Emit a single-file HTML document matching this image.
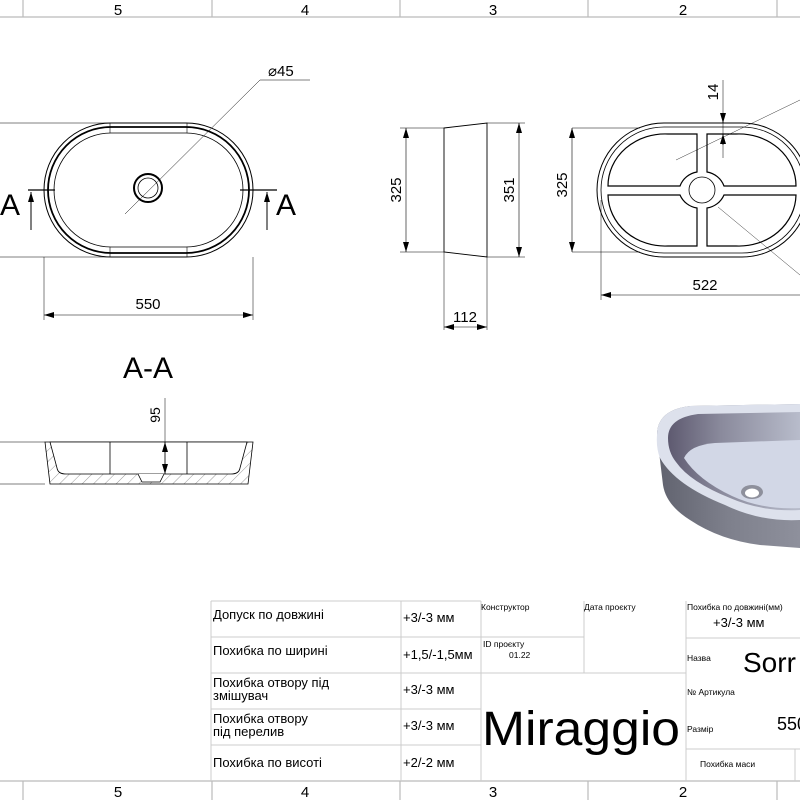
<!DOCTYPE html>
<html><head><meta charset="utf-8"><style>
html,body{margin:0;padding:0;background:#fff;}
svg{display:block;}
text{font-family:"Liberation Sans","DejaVu Sans",sans-serif;fill:#000;}
</style></head><body>
<svg width="800" height="800" viewBox="0 0 800 800" xmlns="http://www.w3.org/2000/svg">
<defs>
<marker id="ar" markerWidth="10" markerHeight="6" refX="10" refY="3" orient="auto-start-reverse" markerUnits="userSpaceOnUse"><path d="M0,0 L10,3 L0,6 Z" fill="#000"/></marker>
<linearGradient id="side" x1="0" y1="0" x2="1" y2="0"><stop offset="0" stop-color="#60626e"/><stop offset="0.5" stop-color="#7e808c"/><stop offset="1" stop-color="#8e909c"/></linearGradient>
<linearGradient id="inner" x1="0" y1="0" x2="1" y2="0"><stop offset="0" stop-color="#5e5a70"/><stop offset="0.4" stop-color="#8a8a9c"/><stop offset="1" stop-color="#b8bccb"/></linearGradient>
<pattern id="hatch" width="8" height="8" patternUnits="userSpaceOnUse" patternTransform="rotate(45)"><line x1="0" y1="0" x2="0" y2="8" stroke="#555" stroke-width="0.6"/></pattern>
</defs>

<!-- frame strips -->
<g stroke="#bbb" stroke-width="1.2" fill="none">
<line x1="0" y1="17" x2="800" y2="17"/>
<line x1="0" y1="781" x2="800" y2="781"/>
<line x1="23" y1="0" x2="23" y2="17"/><line x1="212" y1="0" x2="212" y2="17"/><line x1="400" y1="0" x2="400" y2="17"/><line x1="588" y1="0" x2="588" y2="17"/><line x1="777" y1="0" x2="777" y2="17"/>
<line x1="23" y1="781" x2="23" y2="800"/><line x1="212" y1="781" x2="212" y2="800"/><line x1="400" y1="781" x2="400" y2="800"/><line x1="588" y1="781" x2="588" y2="800"/><line x1="777" y1="781" x2="777" y2="800"/>
</g>
<g font-size="15" text-anchor="middle">
<text x="118" y="15">5</text><text x="305" y="15">4</text><text x="493" y="15">3</text><text x="683" y="15">2</text>
<text x="118" y="797">5</text><text x="305" y="797">4</text><text x="493" y="797">3</text><text x="683" y="797">2</text>
</g>

<!-- TOP VIEW -->
<g fill="none" stroke="#000">
<line x1="0" y1="123" x2="110" y2="123" stroke-width="0.5"/>
<line x1="0" y1="257" x2="110" y2="257" stroke-width="0.5"/>
<rect x="44" y="123" width="209" height="134" rx="67" stroke-width="1"/>
<rect x="48" y="127" width="201" height="126" rx="63" stroke-width="1.8"/>
<rect x="54" y="133" width="189" height="114" rx="57" stroke-width="0.8"/>
<line x1="110" y1="123" x2="110" y2="133" stroke-width="0.6"/><line x1="187" y1="123" x2="187" y2="133" stroke-width="0.6"/>
<line x1="110" y1="247" x2="110" y2="257" stroke-width="0.6"/><line x1="187" y1="247" x2="187" y2="257" stroke-width="0.6"/>
<circle cx="148" cy="188" r="14" stroke-width="2"/>
<circle cx="148" cy="188" r="10" stroke-width="0.8"/>
<line x1="125" y1="214" x2="260" y2="80" stroke-width="0.5"/>
<line x1="260" y1="80" x2="310" y2="80" stroke-width="0.5"/>
<line x1="28" y1="190" x2="55" y2="190" stroke-width="1.2"/>
<line x1="240" y1="190" x2="277" y2="190" stroke-width="1.2"/>
<line x1="31" y1="230" x2="31" y2="192" stroke-width="1" marker-end="url(#ar)"/>
<line x1="267" y1="230" x2="267" y2="192" stroke-width="1" marker-end="url(#ar)"/>
<line x1="44" y1="257" x2="44" y2="320" stroke-width="0.5"/>
<line x1="253" y1="257" x2="253" y2="320" stroke-width="0.5"/>
<line x1="44" y1="315" x2="253" y2="315" stroke-width="0.6" marker-start="url(#ar)" marker-end="url(#ar)"/>
</g>
<text x="0" y="215" font-size="30">A</text>
<text x="276" y="215" font-size="30">A</text>
<text x="148" y="309" font-size="15" text-anchor="middle">550</text>
<text x="268" y="76" font-size="15">⌀45</text>

<!-- SIDE VIEW -->
<g fill="none" stroke="#000">
<path d="M444,128 L487,123 L487,257 L444,252 Z" stroke-width="0.9"/>
<line x1="400" y1="128" x2="444" y2="128" stroke-width="0.5"/>
<line x1="400" y1="252" x2="444" y2="252" stroke-width="0.5"/>
<line x1="487" y1="123" x2="525" y2="123" stroke-width="0.5"/>
<line x1="487" y1="257" x2="525" y2="257" stroke-width="0.5"/>
<line x1="406" y1="128" x2="406" y2="252" stroke-width="0.6" marker-start="url(#ar)" marker-end="url(#ar)"/>
<line x1="519" y1="123" x2="519" y2="257" stroke-width="0.6" marker-start="url(#ar)" marker-end="url(#ar)"/>
<line x1="444" y1="252" x2="444" y2="330" stroke-width="0.5"/>
<line x1="487" y1="257" x2="487" y2="330" stroke-width="0.5"/>
<line x1="444" y1="327" x2="487" y2="327" stroke-width="0.6" marker-start="url(#ar)" marker-end="url(#ar)"/>
</g>
<text font-size="15" text-anchor="middle" transform="translate(401,190) rotate(-90)">325</text>
<text font-size="15" text-anchor="middle" transform="translate(514,190) rotate(-90)">351</text>
<text x="465" y="322" font-size="15" text-anchor="middle">112</text>

<!-- BOTTOM VIEW -->
<g fill="none" stroke="#000">
<rect x="597" y="123" width="212" height="134" rx="67" stroke-width="1"/>
<rect x="601" y="127" width="204" height="126" rx="63" stroke-width="0.8"/>
<path d="M697,134 L668,134 A57,52 0 0 0 608,186 L680,186 A22,22 0 0 1 697,172 Z" stroke-width="1.2"/>
<path d="M707,134 L736,134 A57,52 0 0 1 796,186 L724,186 A22,22 0 0 0 707,172 Z" stroke-width="1.2"/>
<path d="M697,246 L668,246 A57,52 0 0 1 608,195 L680,195 A22,22 0 0 0 697,208 Z" stroke-width="1.2"/>
<path d="M707,246 L736,246 A57,52 0 0 0 796,195 L724,195 A22,22 0 0 1 707,208 Z" stroke-width="1.2"/>
<circle cx="702" cy="190" r="13" stroke-width="0.8"/>
<line x1="572" y1="128" x2="640" y2="128" stroke-width="0.5"/>
<line x1="572" y1="252" x2="640" y2="252" stroke-width="0.5"/>
<line x1="572" y1="128" x2="572" y2="252" stroke-width="0.6" marker-start="url(#ar)" marker-end="url(#ar)"/>
<line x1="601" y1="200" x2="601" y2="300" stroke-width="0.5"/>
<line x1="601" y1="295" x2="800" y2="295" stroke-width="0.6" marker-start="url(#ar)"/>
<line x1="723" y1="80" x2="723" y2="158" stroke-width="0.5"/>
<line x1="723" y1="118" x2="723" y2="123" stroke-width="0.8" marker-end="url(#ar)"/>
<line x1="723" y1="145" x2="723" y2="134" stroke-width="0.8" marker-end="url(#ar)"/>
<line x1="676" y1="160" x2="800" y2="100" stroke-width="0.4"/>
<line x1="718" y1="207" x2="800" y2="275" stroke-width="0.4"/>
</g>
<text font-size="15" text-anchor="middle" transform="translate(567,185) rotate(-90)">325</text>
<text font-size="15" text-anchor="middle" transform="translate(718,92) rotate(-90)">14</text>
<text x="705" y="290" font-size="15" text-anchor="middle">522</text>

<!-- SECTION A-A -->
<text x="148" y="378" font-size="30" text-anchor="middle">A-A</text>
<g fill="none" stroke="#000">
<line x1="0" y1="442" x2="45" y2="442" stroke-width="0.6"/>
<line x1="0" y1="484" x2="45" y2="484" stroke-width="0.6"/>
<path d="M45,442 L253,442 L248,484 L50,484 Z" fill="url(#hatch)" stroke-width="0.8"/>
<path d="M50,442 L57,468 Q58,474 66,474 L231,474 Q239,474 240,468 L247,442 Z" fill="#fff" stroke-width="0.8"/>
<line x1="110" y1="442" x2="110" y2="474" stroke-width="0.8"/>
<line x1="187" y1="442" x2="187" y2="474" stroke-width="0.8"/>
<path d="M138,474 L142,482 L160,482 L164,474" fill="#fff" stroke-width="0.8"/>
<line x1="165" y1="398" x2="165" y2="474" stroke-width="0.5"/>
<line x1="165" y1="442" x2="165" y2="474" stroke-width="0.7" marker-start="url(#ar)" marker-end="url(#ar)"/>
</g>
<text font-size="14" text-anchor="middle" transform="translate(160,415) rotate(-90)">95</text>

<!-- 3D RENDER -->
<g>
<!-- side body -->
<path d="M657,435 Q657,410 690,406 L800,404 L800,548 L760,545 Q720,540 690,520 Q666,505 663,485 Z" fill="url(#side)"/>
<!-- top rim -->
<path d="M657,435 Q657,410 690,406 L800,404 L800,520 Q760,522 725,505 Q675,485 660,458 Q656,448 657,435 Z" fill="#dde1ec"/>
<!-- inner basin -->
<path d="M668,438 Q668,418 698,414 L800,412 L800,510 Q762,512 730,498 Q690,482 676,462 Q668,452 668,438 Z" fill="url(#inner)"/>
<!-- basin floor -->
<path d="M684,458 Q690,445 715,443 L800,440 L800,508 Q762,510 732,496 Q698,480 684,458 Z" fill="#d2d7e6"/>
<ellipse cx="752" cy="492" rx="11" ry="7" fill="#8e909c"/>
<ellipse cx="752" cy="493" rx="7" ry="4.5" fill="#fff"/>
</g>

<!-- TITLE TABLE -->
<g stroke="#ccc" stroke-width="1" fill="none">
<line x1="211" y1="601" x2="481" y2="601"/>
<line x1="211" y1="637" x2="481" y2="637"/>
<line x1="211" y1="673" x2="481" y2="673"/>
<line x1="211" y1="709" x2="481" y2="709"/>
<line x1="211" y1="745" x2="481" y2="745"/>
<line x1="211" y1="601" x2="211" y2="781"/>
<line x1="401" y1="601" x2="401" y2="781"/>
<line x1="481" y1="601" x2="481" y2="781"/>
<line x1="584" y1="601" x2="584" y2="673"/>
<line x1="481" y1="637" x2="584" y2="637"/>
<line x1="481" y1="673" x2="686" y2="673"/>
<line x1="686" y1="601" x2="686" y2="781"/>
<line x1="686" y1="638" x2="800" y2="638"/>
<line x1="686" y1="749" x2="800" y2="749"/>
<line x1="795" y1="749" x2="795" y2="781"/>
</g>
<g font-size="13">
<text x="213" y="619">Допуск по довжині</text>
<text x="213" y="655">Похибка по ширині</text>
<text x="213" y="687">Похибка отвору під</text>
<text x="213" y="700">змішувач</text>
<text x="213" y="723">Похибка отвору</text>
<text x="213" y="736">під перелив</text>
<text x="213" y="767">Похибка по висоті</text>
<text x="403" y="622">+3/-3 мм</text>
<text x="403" y="659">+1,5/-1,5мм</text>
<text x="403" y="694">+3/-3 мм</text>
<text x="403" y="730">+3/-3 мм</text>
<text x="403" y="767">+2/-2 мм</text>
<text x="713" y="627">+3/-3 мм</text>
</g>
<g font-size="8.5">
<text x="481" y="610">Конструктор</text>
<text x="584" y="610">Дата проєкту</text>
<text x="483" y="647">ID проєкту</text>
<text x="509" y="658">01.22</text>
<text x="687" y="610">Похибка по довжині(мм)</text>
<text x="687" y="661">Назва</text>
<text x="687" y="695">№ Артикула</text>
<text x="687" y="732">Размір</text>
<text x="700" y="767">Похибка маси</text>
</g>
<text x="743" y="672" font-size="28">Sorr</text>
<text x="777" y="730" font-size="18">550</text>
<text x="482" y="745" font-size="48" textLength="198" lengthAdjust="spacingAndGlyphs">Miraggio</text>
</svg>
</body></html>
